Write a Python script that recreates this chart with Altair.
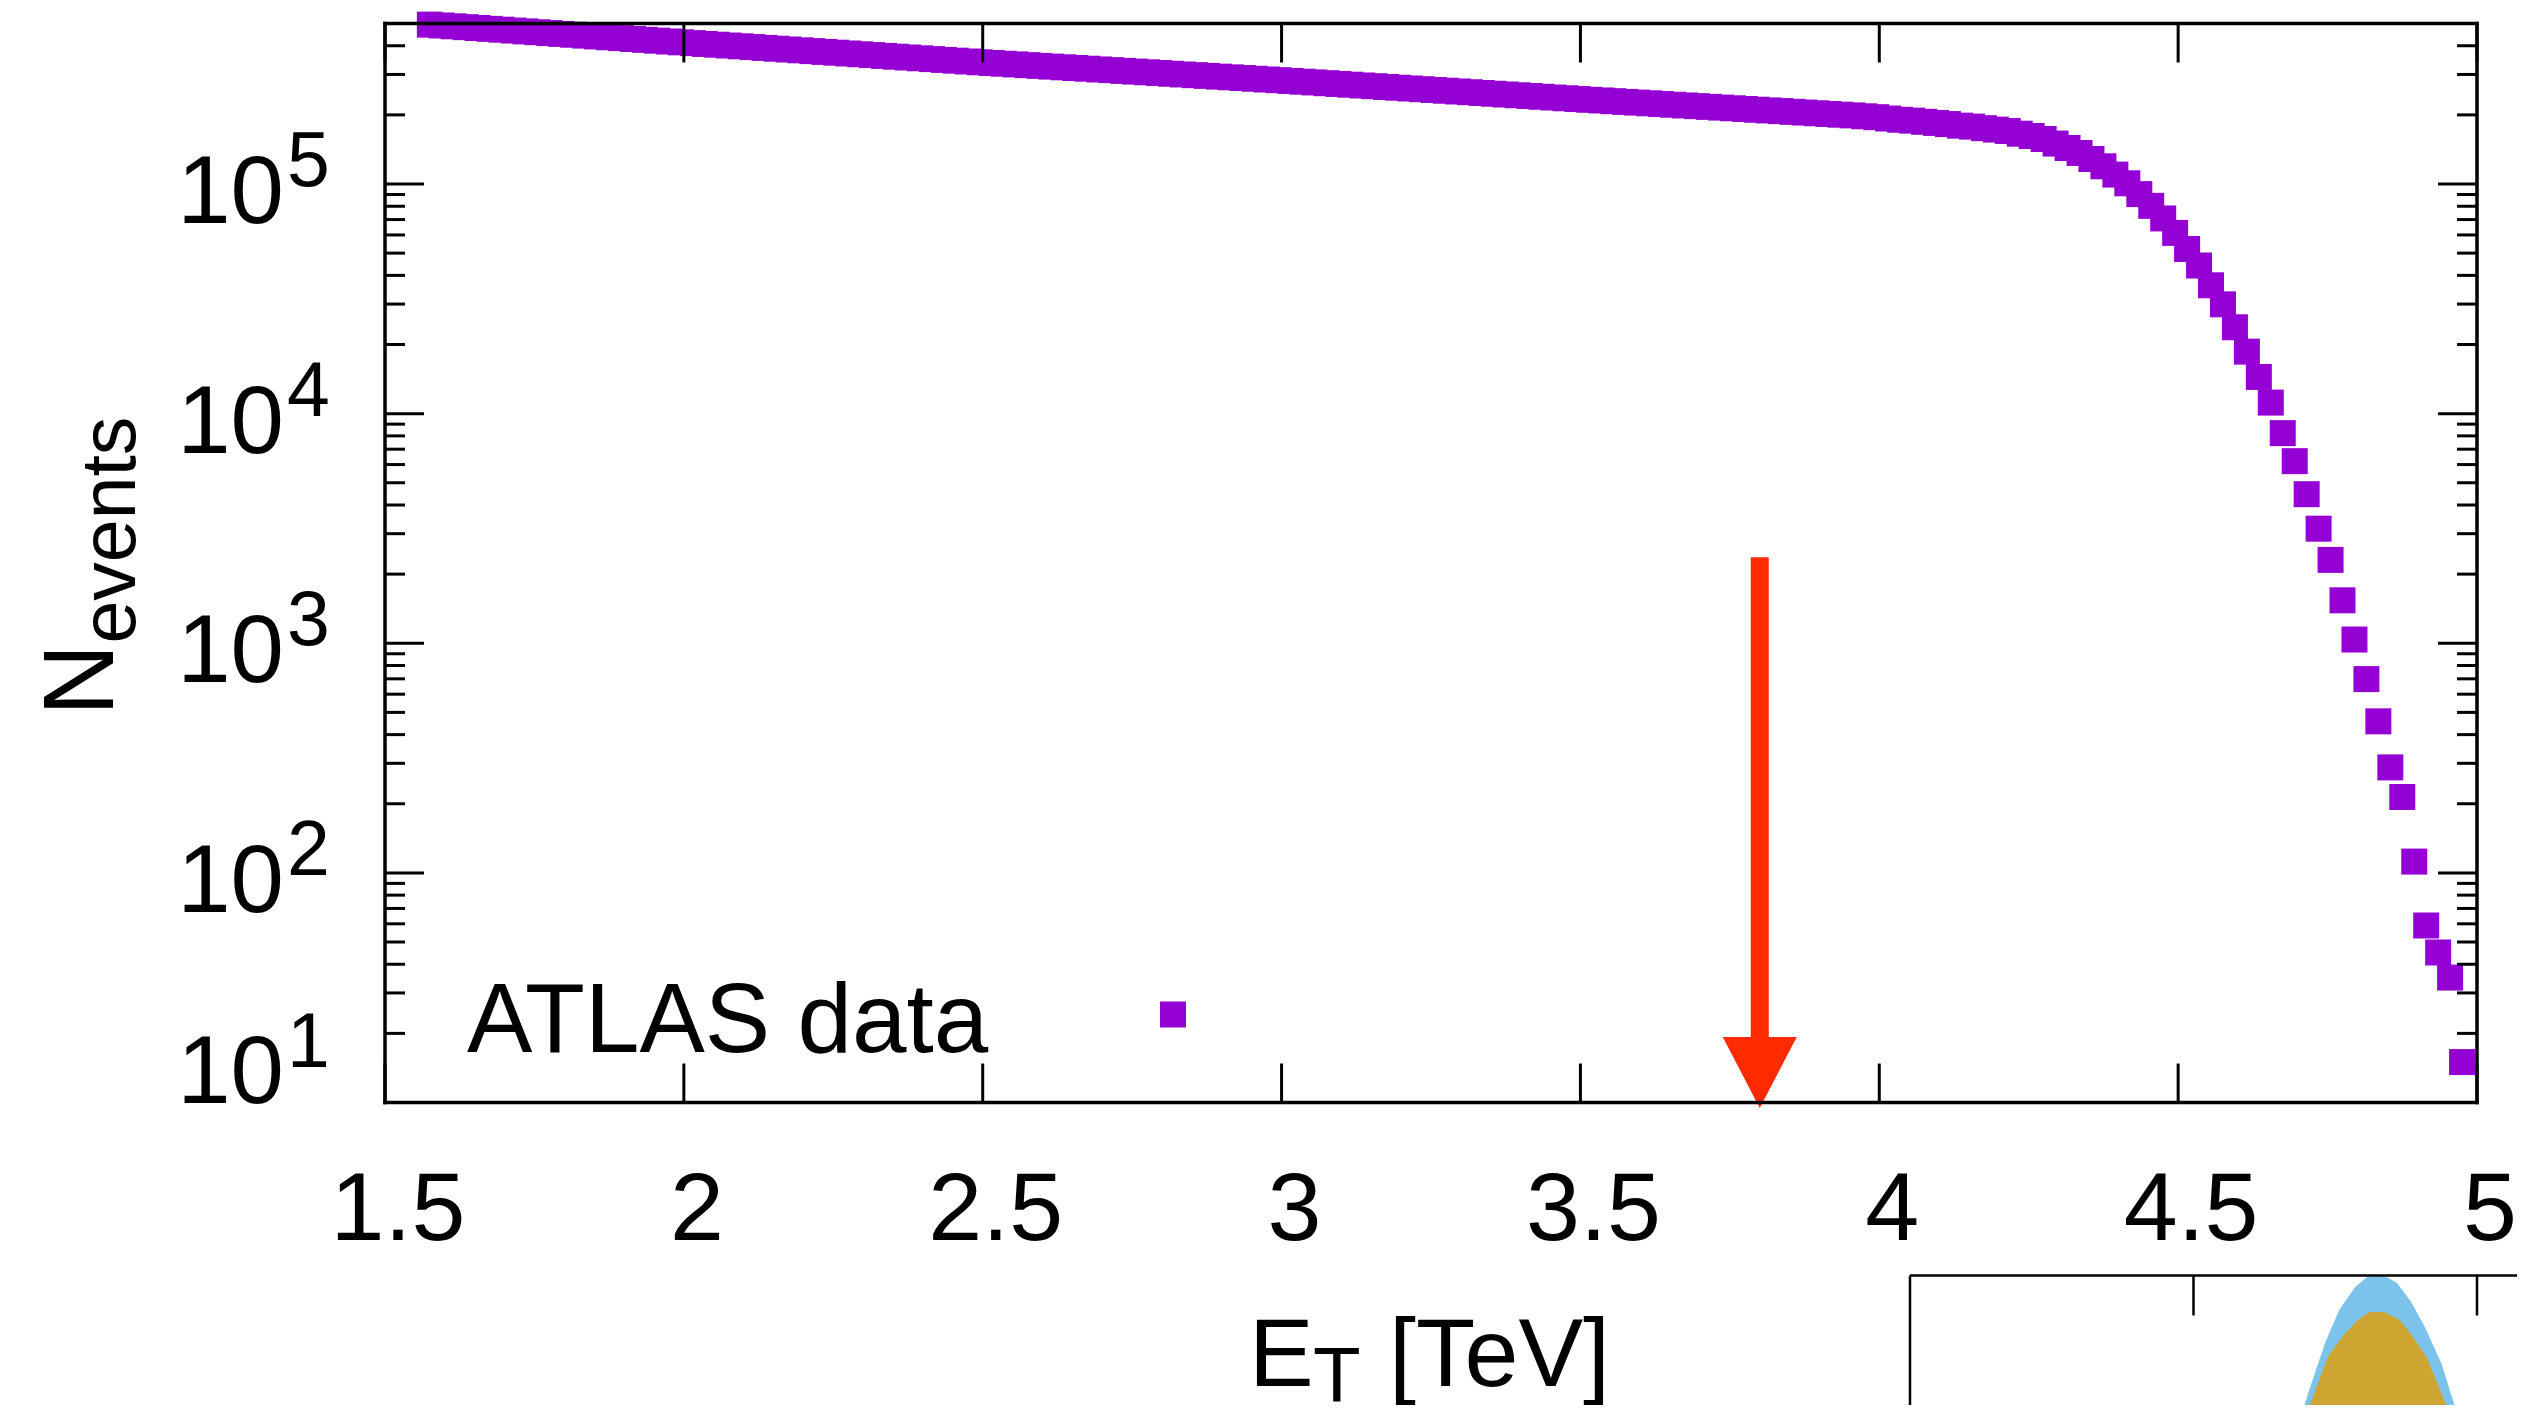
import altair as alt
import pandas as pd

# ---------------- data ----------------
et_tev = [
    1.575, 1.595, 1.615, 1.635, 1.655, 1.675, 1.695, 1.715, 1.735, 1.755,
    1.775, 1.795, 1.815, 1.835, 1.855, 1.875, 1.895, 1.915, 1.935, 1.955,
    1.975, 1.995, 2.015, 2.035, 2.055, 2.075, 2.095, 2.115, 2.135, 2.155,
    2.175, 2.195, 2.215, 2.235, 2.255, 2.275, 2.295, 2.315, 2.335, 2.355,
    2.375, 2.395, 2.415, 2.435, 2.455, 2.475, 2.495, 2.515, 2.535, 2.555,
    2.575, 2.595, 2.615, 2.635, 2.655, 2.675, 2.695, 2.715, 2.735, 2.755,
    2.775, 2.795, 2.815, 2.835, 2.855, 2.875, 2.895, 2.915, 2.935, 2.955,
    2.975, 2.995, 3.015, 3.035, 3.055, 3.075, 3.095, 3.115, 3.135, 3.155,
    3.175, 3.195, 3.215, 3.235, 3.255, 3.275, 3.295, 3.315, 3.335, 3.355,
    3.375, 3.395, 3.415, 3.435, 3.455, 3.475, 3.495, 3.515, 3.535, 3.555,
    3.575, 3.595, 3.615, 3.635, 3.655, 3.675, 3.695, 3.715, 3.735, 3.755,
    3.775, 3.795, 3.815, 3.835, 3.855, 3.875, 3.895, 3.915, 3.935, 3.955,
    3.975, 3.995, 4.015, 4.035, 4.055, 4.075, 4.095, 4.115, 4.135, 4.155,
    4.175, 4.195, 4.215, 4.235, 4.255, 4.275, 4.295, 4.315, 4.335, 4.355,
    4.375, 4.395, 4.415, 4.435, 4.455, 4.475, 4.495, 4.515, 4.535, 4.555,
    4.575, 4.595, 4.615, 4.635, 4.655, 4.675, 4.695, 4.715, 4.735, 4.755,
    4.775, 4.795, 4.815, 4.835, 4.855, 4.875, 4.895, 4.915, 4.935, 4.955,
    4.975,
]

n_events = [
    494300, 490100, 486100, 482000, 477900, 473900, 469900, 465900, 462000, 458100,
    454200, 450400, 446700, 442900, 439100, 435500, 431800, 428100, 424500, 421000,
    417500, 414000, 410700, 407400, 404200, 401000, 397800, 394600, 391500, 388300,
    385200, 382200, 379100, 376100, 373100, 370100, 367200, 364200, 361300, 358400,
    355600, 352700, 349900, 347100, 344400, 341600, 338900, 336500, 334100, 331700,
    329300, 326900, 324600, 322300, 320000, 317700, 315400, 313200, 310900, 308700,
    306500, 304300, 302100, 299900, 297800, 295700, 293500, 291400, 289400, 287300,
    285200, 283200, 281100, 279000, 276900, 274800, 272700, 270700, 268600, 266600,
    264600, 262600, 260600, 258700, 256700, 254800, 252900, 251000, 249100, 247200,
    245300, 243500, 241600, 239800, 238000, 236200, 234400, 232700, 231100, 229400,
    227800, 226200, 224600, 223000, 221400, 219800, 218300, 216700, 215200, 213700,
    212100, 210600, 209100, 207700, 206200, 204700, 203300, 201800, 200400, 199000,
    197200, 195400, 192800, 190500, 188800, 186600, 184500, 182400, 179500, 177800,
    175000, 172600, 170200, 165600, 161800, 157000, 150000, 143500, 136500, 128500,
    119400, 109900, 100700, 90360, 80350, 70790, 61240, 52120, 44160, 36220,
    29920, 23770, 18620, 14450, 11170, 8222, 6209, 4457, 3155, 2307,
    1538, 1038, 698, 457, 288, 214, 112, 59, 45, 35,
    15,
]

y_major = [10, 100, 1000, 10000, 100000]
y_exponent = ["1", "2", "3", "4", "5"]
y_minor = [20, 30, 40, 50, 60, 70, 80, 90,
           200, 300, 400, 500, 600, 700, 800, 900,
           2000, 3000, 4000, 5000, 6000, 7000, 8000, 9000,
           20000, 30000, 40000, 50000, 60000, 70000, 80000, 90000,
           200000, 300000, 400000]
x_ticks = [1.5, 2.0, 2.5, 3.0, 3.5, 4.0, 4.5, 5.0]
x_tick_labels = ["1.5", "2", "2.5", "3", "3.5", "4", "4.5", "5"]

arrow_et = [3.8]
arrow_top = [2370]
arrow_bottom = [10]

# partially visible second panel (bottom right)
inset_blue_et = [4.680, 4.693, 4.704, 4.732, 4.757, 4.785, 4.806, 4.822, 4.840, 4.859, 4.884, 4.908, 4.937, 4.963, 4.975]
inset_blue_v = [0.0, 0.0, 0.149, 0.498, 0.743, 0.914, 0.989, 0.996, 0.989, 0.944, 0.803, 0.617, 0.349, 0.0, 0.0]
inset_gold_et = [4.690, 4.702, 4.737, 4.762, 4.790, 4.810, 4.836, 4.864, 4.887, 4.912, 4.949, 4.960]
inset_gold_v = [0.0, 0.0, 0.394, 0.543, 0.669, 0.729, 0.729, 0.669, 0.543, 0.387, 0.0, 0.0]
inset_ticks = [4.5, 5.0]

# ---------------- layout ----------------
W, H = 2092, 1079
FONT = "Liberation Sans"
PURPLE = "#9400D3"
RED = "#FF2A00"

X = alt.Scale(domain=[1.5, 5.0], nice=False, zero=False)
Y = alt.Scale(type="log", domain=[10, 500000], nice=False)

df = pd.DataFrame({"et": et_tev, "n": n_events})
df_major = pd.DataFrame({"v": y_major, "e": y_exponent})
df_minor = pd.DataFrame({"v": y_minor})
df_xt = pd.DataFrame({"t": x_ticks, "lab": x_tick_labels})
df_arrow = pd.DataFrame({"x": arrow_et, "top": arrow_top, "bot": arrow_bottom})
one = pd.DataFrame({"a": [0]})

xq = lambda f: alt.X(f, type="quantitative", scale=X, axis=None)
yq = lambda f: alt.Y(f, type="quantitative", scale=Y, axis=None)

points = alt.Chart(df).mark_square(size=676, color=PURPLE, opacity=1).encode(x=xq("et"), y=yq("n"))

tick_w = 3
ymaj_l = alt.Chart(df_major).mark_rule(color="black", strokeWidth=tick_w).encode(
    y=yq("v"), x=alt.value(0), x2=alt.value(39))
ymaj_r = alt.Chart(df_major).mark_rule(color="black", strokeWidth=tick_w).encode(
    y=yq("v"), x=alt.value(W - 39), x2=alt.value(W))
ymin_l = alt.Chart(df_minor).mark_rule(color="black", strokeWidth=tick_w).encode(
    y=yq("v"), x=alt.value(0), x2=alt.value(20))
ymin_r = alt.Chart(df_minor).mark_rule(color="black", strokeWidth=tick_w).encode(
    y=yq("v"), x=alt.value(W - 20), x2=alt.value(W))
xt_b = alt.Chart(df_xt).mark_rule(color="black", strokeWidth=tick_w).encode(
    x=xq("t"), y=alt.value(H - 39), y2=alt.value(H))
xt_t = alt.Chart(df_xt).mark_rule(color="black", strokeWidth=tick_w).encode(
    x=xq("t"), y=alt.value(0), y2=alt.value(39))

# y tick labels 10^k
ylab_ten = alt.Chart(df_major).transform_filter("datum.v > 10").mark_text(
    align="right", baseline="alphabetic", fontSize=96, font=FONT, dy=39, color="black"
).encode(y=yq("v"), x=alt.value(-101), text=alt.value("10"))
ylab_exp = alt.Chart(df_major).transform_filter("datum.v > 10").mark_text(
    align="left", baseline="alphabetic", fontSize=77, font=FONT, dy=2, color="black"
).encode(y=yq("v"), x=alt.value(-98), text=alt.Text("e:N"))
ylab_ten1 = alt.Chart(df_major).transform_filter("datum.v == 10").mark_text(
    align="right", baseline="alphabetic", fontSize=96, font=FONT, dy=0, color="black"
).encode(y=yq("v"), x=alt.value(-101), text=alt.value("10"))
ylab_exp1 = alt.Chart(df_major).transform_filter("datum.v == 10").mark_text(
    align="left", baseline="alphabetic", fontSize=77, font=FONT, dy=-36, color="black"
).encode(y=yq("v"), x=alt.value(-98), text=alt.Text("e:N"))

# x tick labels
xlab = alt.Chart(df_xt).mark_text(
    align="center", baseline="alphabetic", fontSize=97, font=FONT, dx=13, color="black"
).encode(x=xq("t"), y=alt.value(1216.5), text=alt.Text("lab:N"))

def txt(s, x, y, size, **kw):
    return alt.Chart(one).mark_text(
        baseline="alphabetic", fontSize=size, font=FONT, color="black", **kw
    ).encode(x=alt.value(x), y=alt.value(y), text=alt.value(s))

ytitle_n = txt("N", -272, 692.5, 100, align="left", angle=270)
ytitle_sub = txt("events", -250, 620, 77, align="left", angle=270)
xtitle_e = txt("E", 864, 1362, 97, align="left")
xtitle_sub = txt("T", 928, 1378, 78, align="left")
xtitle_rest = txt("[TeV]", 1004, 1362, 97, align="left")

legend_text = txt("ATLAS data", 82, 1028, 98, align="left")
legend_mark = alt.Chart(one).mark_square(size=676, color=PURPLE, opacity=1).encode(
    x=alt.value(788), y=alt.value(991))

# arrow
shaft = alt.Chart(df_arrow).mark_rule(color=RED, strokeWidth=18, strokeCap="butt", y2Offset=-40).encode(
    x=xq("x"), y=yq("top"), y2=alt.Y2("bot"))
head = alt.Chart(df_arrow).mark_point(
    shape="M-1,-0.96L1,-0.96L0,0.96Z", size=5476, filled=True, color=RED, opacity=1,
    strokeWidth=0, yOffset=-30
).encode(x=xq("x"), y=yq("bot"))

# frame (drawn on top)
fw = 3.5
frame = [
    alt.Chart(one).mark_rule(color="black", strokeWidth=fw, strokeCap="square").encode(
        x=alt.value(0), x2=alt.value(W), y=alt.value(0)),
    alt.Chart(one).mark_rule(color="black", strokeWidth=fw, strokeCap="square").encode(
        x=alt.value(0), x2=alt.value(W), y=alt.value(H)),
    alt.Chart(one).mark_rule(color="black", strokeWidth=fw, strokeCap="square").encode(
        x=alt.value(0), y=alt.value(0), y2=alt.value(H)),
    alt.Chart(one).mark_rule(color="black", strokeWidth=fw, strokeCap="square").encode(
        x=alt.value(W), y=alt.value(0), y2=alt.value(H)),
]

main = alt.layer(
    points, ymaj_l, ymaj_r, ymin_l, ymin_r, xt_b, xt_t,
    ylab_ten, ylab_exp, ylab_ten1, ylab_exp1, xlab,
    ytitle_n, ytitle_sub, xtitle_e, xtitle_sub, xtitle_rest,
    legend_text, legend_mark, shaft, head, *frame
)

# inset panel (bottom right, cut by the picture edge)
IX = alt.Scale(domain=[4.0, 5.0], range=[1525, 2092], nice=False, zero=False)
IY = alt.Scale(domain=[0, 1], range=[1386.5, 1252], nice=False, zero=False)
df_blue = pd.DataFrame({"x": inset_blue_et, "v": inset_blue_v})
df_gold = pd.DataFrame({"x": inset_gold_et, "v": inset_gold_v})
df_it = pd.DataFrame({"t": inset_ticks})

blue = alt.Chart(df_blue).mark_area(color="#7CC3EC", opacity=1).encode(
    x=alt.X("x:Q", scale=IX, axis=None), y=alt.Y("v:Q", scale=IY, axis=None))
gold = alt.Chart(df_gold).mark_area(color="#CFA531", opacity=1).encode(
    x=alt.X("x:Q", scale=IX, axis=None), y=alt.Y("v:Q", scale=IY, axis=None))
itick = alt.Chart(df_it).mark_rule(color="black", strokeWidth=2.5).encode(
    x=alt.X("t:Q", scale=IX, axis=None), y=alt.value(1252), y2=alt.value(1292))
itop = alt.Chart(one).mark_rule(color="black", strokeWidth=2.5).encode(
    x=alt.value(1525), x2=alt.value(2150), y=alt.value(1252))
ileft = alt.Chart(one).mark_rule(color="black", strokeWidth=2.5).encode(
    x=alt.value(1525), y=alt.value(1252), y2=alt.value(1400))
inset = alt.layer(blue, gold, itick, itop, ileft)

chart = alt.layer(main, inset).resolve_scale(
    x="independent", y="independent"
).properties(
    width=W, height=H,
    autosize=alt.AutoSizeParams(type="none"),
    padding={"left": 377, "top": 15.5, "right": 40, "bottom": 302.5},
    background="white",
).configure_view(stroke=None).configure(font=FONT)

chart.save("out.html", embed_options={"renderer": "svg", "actions": False})
